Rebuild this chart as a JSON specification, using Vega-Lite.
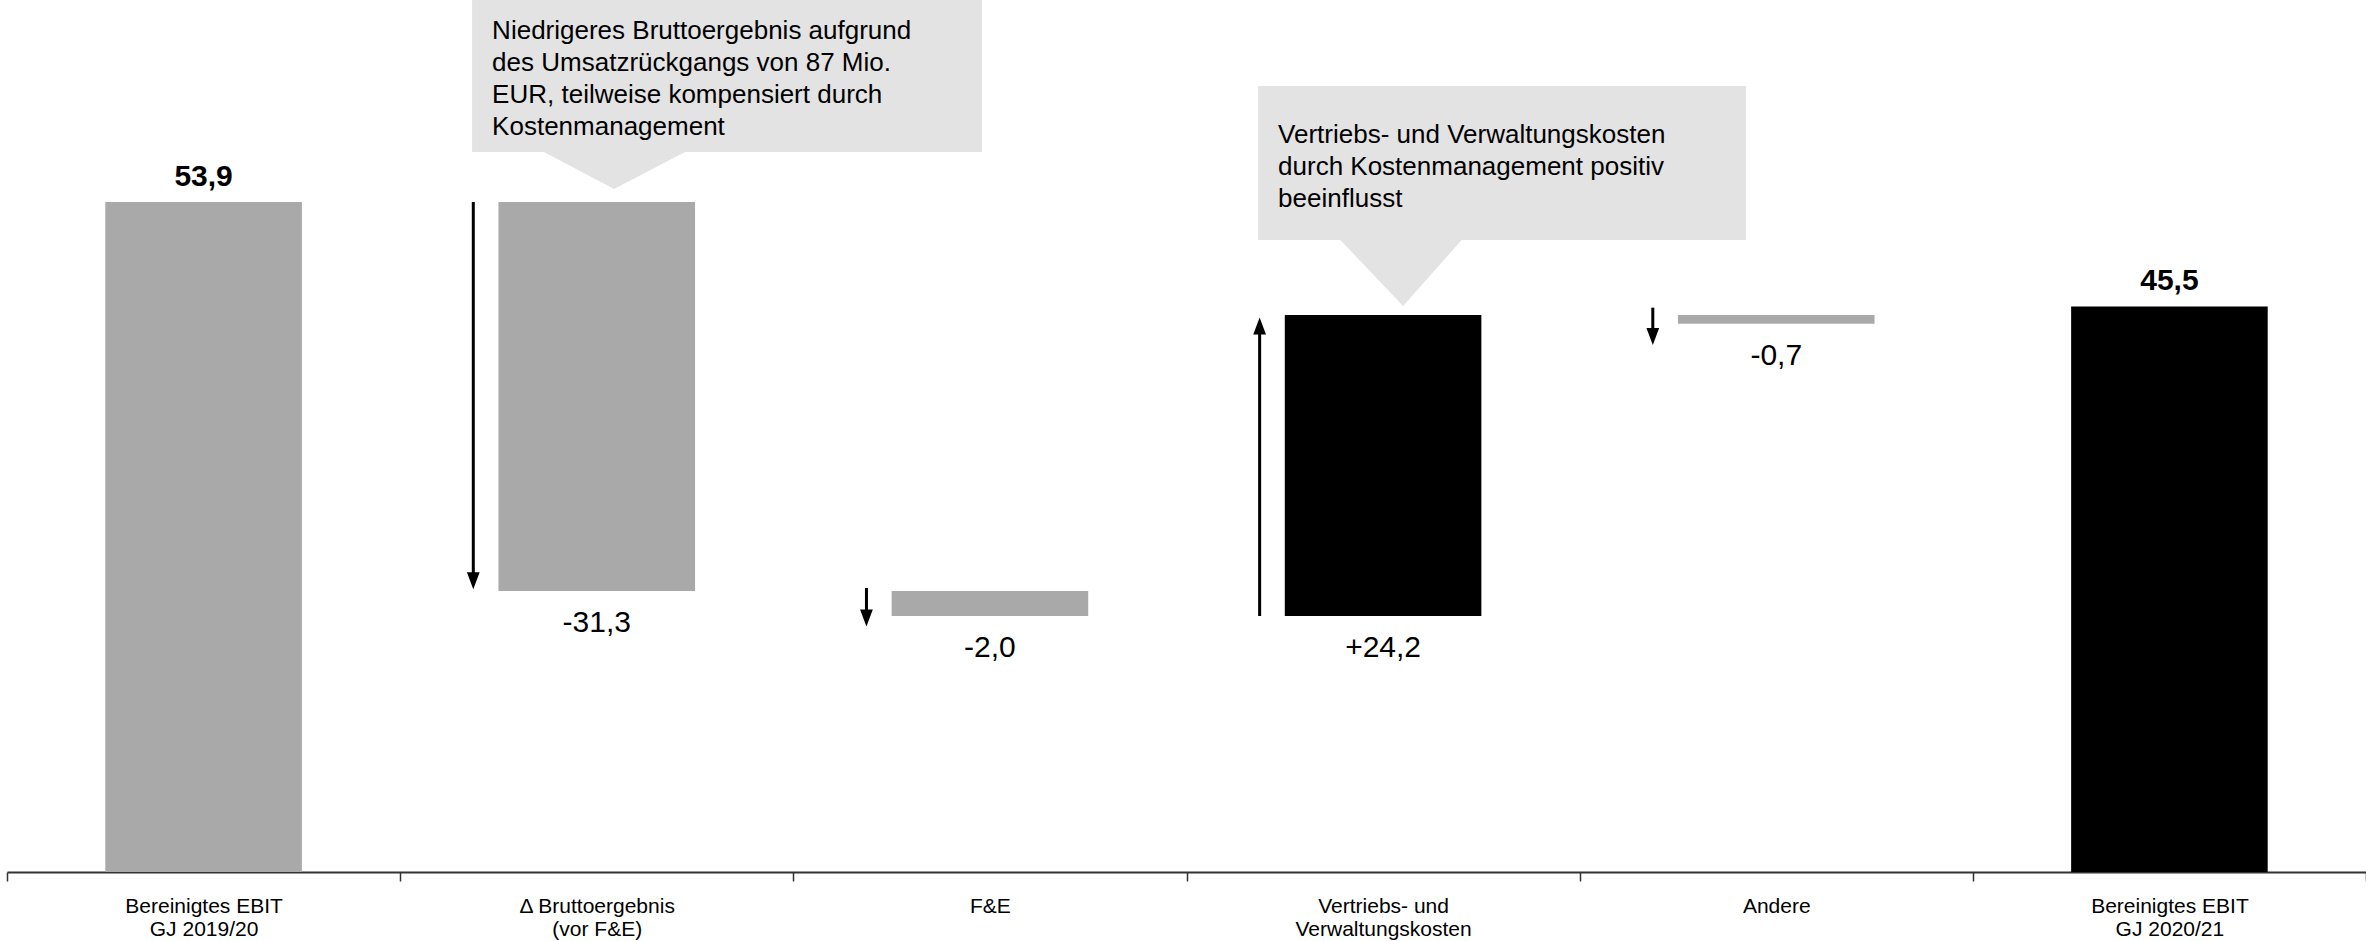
{
  "$schema": "https://vega.github.io/schema/vega-lite/v6.json",
  "width": 2359,
  "height": 872,
  "autosize": {"type": "none"},
  "padding": {"left": 7, "right": 0, "top": 0, "bottom": 69},
  "background": "white",
  "config": {
    "view": {"stroke": null},
    "font": "Liberation Sans",
    "text": {"font": "Liberation Sans"}
  },
  "datasets": {
    "bars": [
      {"cat": "Bereinigtes  EBIT|GJ 2019/20", "start": 0, "end": 53.9, "low": 0, "label": "53,9", "kind": "total", "step": "Ausgang"},
      {"cat": "Δ Bruttoergebnis|(vor F&E)", "start": 53.9, "end": 22.6, "low": 22.6, "label": "-31,3", "kind": "delta", "step": "Rückgang"},
      {"cat": "F&E", "start": 22.6, "end": 20.6, "low": 20.6, "label": "-2,0", "kind": "delta", "step": "Rückgang"},
      {"cat": "Vertriebs- und|Verwaltungskosten", "start": 20.6, "end": 44.8, "low": 20.6, "label": "+24,2", "kind": "delta", "step": "Anstieg"},
      {"cat": "Andere", "start": 44.8, "end": 44.1, "low": 44.1, "label": "-0,7", "kind": "delta", "step": "Rückgang"},
      {"cat": "Bereinigtes EBIT|GJ  2020/21", "start": 0, "end": 45.5, "low": 0, "label": "45,5", "kind": "total", "step": "Ergebnis"}
    ],
    "arrows": [
      {"cat": "Δ Bruttoergebnis|(vor F&E)", "from": 53.9, "to": 22.75, "dir": "down"},
      {"cat": "F&E", "from": 22.85, "to": 19.75, "dir": "down"},
      {"cat": "Vertriebs- und|Verwaltungskosten", "from": 20.6, "to": 44.6, "dir": "up"},
      {"cat": "Andere", "from": 45.4, "to": 42.4, "dir": "down"}
    ],
    "boxes": [
      {"id": 1, "x0": 1.183, "x1": 2.48, "y0": 57.92, "y1": 70.15, "ty": 68.7, "text": "Niedrigeres Bruttoergebnis aufgrund\ndes Umsatzrückgangs von 87 Mio.\nEUR, teilweise kompensiert durch\nKostenmanagement"},
      {"id": 2, "x0": 3.182, "x1": 4.423, "y0": 50.84, "y1": 63.23, "ty": 60.34, "text": "Vertriebs- und Verwaltungskosten\ndurch Kostenmanagement positiv\nbeeinflusst"}
    ],
    "pointers": [
      {"id": 1, "px": 1.363, "top": 57.97, "bot": 57.97},
      {"id": 1, "px": 1.544, "top": 57.97, "bot": 54.95},
      {"id": 1, "px": 1.727, "top": 57.97, "bot": 57.97},
      {"id": 2, "px": 3.39, "top": 50.89, "bot": 50.89},
      {"id": 2, "px": 3.551, "top": 50.89, "bot": 45.53},
      {"id": 2, "px": 3.701, "top": 50.89, "bot": 50.89}
    ]
  },
  "resolve": {"scale": {"x": "independent"}, "axis": {"x": "independent"}},
  "layer": [
    {
      "data": {"name": "bars"},
      "mark": {"type": "bar", "width": {"band": 0.5}},
      "encoding": {
        "x": {
          "field": "cat", "type": "nominal", "sort": null,
          "scale": {"type": "band", "paddingInner": 0, "paddingOuter": 0, "domain": ["Bereinigtes  EBIT|GJ 2019/20", "Δ Bruttoergebnis|(vor F&E)", "F&E", "Vertriebs- und|Verwaltungskosten", "Andere", "Bereinigtes EBIT|GJ  2020/21"]},
          "axis": {
            "title": null, "labelAngle": 0, "labelFont": "Liberation Sans", "labelFontSize": 21, "labelColor": "#000",
            "labelLineHeight": 23, "labelExpr": "split(datum.label, '|')", "tickBand": "extent", "tickSize": 9,
            "tickColor": "#333", "tickWidth": 1.5, "domainColor": "#333", "domainWidth": 2, "labelPadding": 14,
            "labelBaseline": "top", "labelLimit": 390, "labelOverlap": false, "grid": false
          }
        },
        "y": {"field": "start", "type": "quantitative", "scale": {"domain": [0, 70.15], "nice": false, "zero": true}, "axis": null},
        "y2": {"field": "end"},
        "color": {"field": "step", "type": "nominal", "scale": {"domain": ["Ausgang", "Rückgang", "Anstieg", "Ergebnis"], "range": ["#a9a9a9", "#a9a9a9", "#000000", "#000000"]}, "legend": null}
      }
    },
    {
      "data": {"name": "bars"},
      "transform": [{"filter": "datum.kind === 'total'"}],
      "mark": {"type": "text", "fontSize": 30, "fontWeight": "bold", "baseline": "middle", "align": "center", "dy": -25, "color": "#000"},
      "encoding": {
        "x": {"field": "cat", "type": "nominal", "sort": null, "scale": {"type": "band", "paddingInner": 0, "paddingOuter": 0, "domain": ["Bereinigtes  EBIT|GJ 2019/20", "Δ Bruttoergebnis|(vor F&E)", "F&E", "Vertriebs- und|Verwaltungskosten", "Andere", "Bereinigtes EBIT|GJ  2020/21"]}, "axis": null},
        "y": {"field": "end", "type": "quantitative"},
        "text": {"field": "label"}
      }
    },
    {
      "data": {"name": "bars"},
      "transform": [{"filter": "datum.kind === 'delta'"}],
      "mark": {"type": "text", "fontSize": 30, "baseline": "middle", "align": "center", "dy": 32, "color": "#000"},
      "encoding": {
        "x": {"field": "cat", "type": "nominal", "sort": null, "scale": {"type": "band", "paddingInner": 0, "paddingOuter": 0, "domain": ["Bereinigtes  EBIT|GJ 2019/20", "Δ Bruttoergebnis|(vor F&E)", "F&E", "Vertriebs- und|Verwaltungskosten", "Andere", "Bereinigtes EBIT|GJ  2020/21"]}, "axis": null},
        "y": {"field": "low", "type": "quantitative"},
        "text": {"field": "label"}
      }
    },
    {
      "data": {"name": "arrows"},
      "transform": [{"filter": "datum.dir === 'down'"}],
      "mark": {"type": "rule", "strokeWidth": 3, "color": "#000", "y2Offset": -8},
      "encoding": {
        "x": {"field": "cat", "type": "nominal", "bandPosition": 0.186, "scale": {"type": "band", "paddingInner": 0, "paddingOuter": 0, "domain": ["Bereinigtes  EBIT|GJ 2019/20", "Δ Bruttoergebnis|(vor F&E)", "F&E", "Vertriebs- und|Verwaltungskosten", "Andere", "Bereinigtes EBIT|GJ  2020/21"]}, "axis": null},
        "y": {"field": "from", "type": "quantitative"},
        "y2": {"field": "to"}
      }
    },
    {
      "data": {"name": "arrows"},
      "transform": [{"filter": "datum.dir === 'down'"}],
      "mark": {"type": "point", "filled": true, "color": "#000", "opacity": 1, "shape": "M-0.75,-1L0.75,-1L0,1Z", "size": 289, "yOffset": -8.5, "strokeWidth": 0},
      "encoding": {
        "x": {"field": "cat", "type": "nominal", "bandPosition": 0.186, "scale": {"type": "band", "paddingInner": 0, "paddingOuter": 0, "domain": ["Bereinigtes  EBIT|GJ 2019/20", "Δ Bruttoergebnis|(vor F&E)", "F&E", "Vertriebs- und|Verwaltungskosten", "Andere", "Bereinigtes EBIT|GJ  2020/21"]}, "axis": null},
        "y": {"field": "to", "type": "quantitative"}
      }
    },
    {
      "data": {"name": "arrows"},
      "transform": [{"filter": "datum.dir === 'up'"}],
      "mark": {"type": "rule", "strokeWidth": 3, "color": "#000", "y2Offset": 8},
      "encoding": {
        "x": {"field": "cat", "type": "nominal", "bandPosition": 0.186, "scale": {"type": "band", "paddingInner": 0, "paddingOuter": 0, "domain": ["Bereinigtes  EBIT|GJ 2019/20", "Δ Bruttoergebnis|(vor F&E)", "F&E", "Vertriebs- und|Verwaltungskosten", "Andere", "Bereinigtes EBIT|GJ  2020/21"]}, "axis": null},
        "y": {"field": "from", "type": "quantitative"},
        "y2": {"field": "to"}
      }
    },
    {
      "data": {"name": "arrows"},
      "transform": [{"filter": "datum.dir === 'up'"}],
      "mark": {"type": "point", "filled": true, "color": "#000", "opacity": 1, "shape": "M-0.75,1L0.75,1L0,-1Z", "size": 289, "yOffset": 8.5, "strokeWidth": 0},
      "encoding": {
        "x": {"field": "cat", "type": "nominal", "bandPosition": 0.186, "scale": {"type": "band", "paddingInner": 0, "paddingOuter": 0, "domain": ["Bereinigtes  EBIT|GJ 2019/20", "Δ Bruttoergebnis|(vor F&E)", "F&E", "Vertriebs- und|Verwaltungskosten", "Andere", "Bereinigtes EBIT|GJ  2020/21"]}, "axis": null},
        "y": {"field": "to", "type": "quantitative"}
      }
    },
    {
      "data": {"name": "boxes"},
      "mark": {"type": "rect", "color": "#e3e3e3"},
      "encoding": {
        "x": {"field": "x0", "type": "quantitative", "scale": {"domain": [0, 6], "nice": false, "zero": false}, "axis": null},
        "x2": {"field": "x1"},
        "y": {"field": "y0", "type": "quantitative"},
        "y2": {"field": "y1"}
      }
    },
    {
      "data": {"name": "pointers"},
      "mark": {"type": "area", "color": "#e3e3e3", "interpolate": "linear"},
      "encoding": {
        "x": {"field": "px", "type": "quantitative", "scale": {"domain": [0, 6], "nice": false, "zero": false}, "axis": null},
        "y": {"field": "top", "type": "quantitative"},
        "y2": {"field": "bot"},
        "detail": {"field": "id", "type": "nominal"}
      }
    },
    {
      "data": {"name": "boxes"},
      "mark": {"type": "text", "fontSize": 26, "align": "left", "baseline": "top", "lineBreak": "\n", "lineHeight": 32, "dx": 20, "color": "#000"},
      "encoding": {
        "x": {"field": "x0", "type": "quantitative", "scale": {"domain": [0, 6], "nice": false, "zero": false}, "axis": null},
        "y": {"field": "ty", "type": "quantitative"},
        "text": {"field": "text"}
      }
    }
  ]
}
